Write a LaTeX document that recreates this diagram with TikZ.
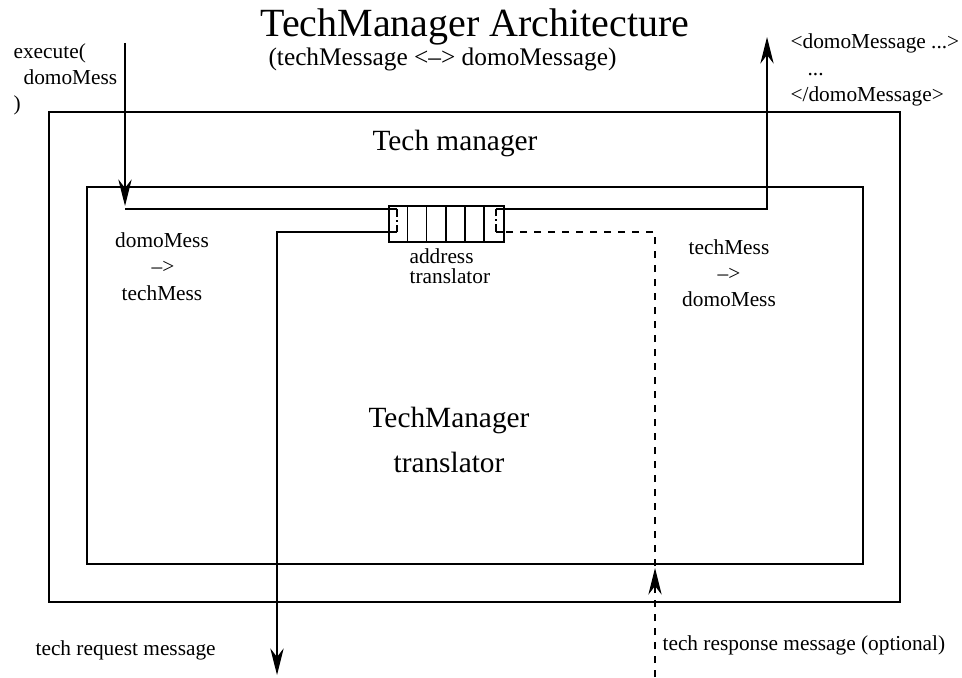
\documentclass[tikz,border=0pt]{standalone}
\usepackage{fontspec}
\setmainfont{Liberation Serif}
\usetikzlibrary{arrows.meta}
\begin{document}
\begin{tikzpicture}[x=0.75pt,y=-0.75pt, line width=0.9pt,
  box/.style={draw, rectangle, inner sep=0pt},
  txt/.style={inner sep=0pt, font=\fontsize{16}{19}\selectfont},
  medtxt/.style={inner sep=0pt, font=\fontsize{22}{26}\selectfont},
  arr/.style={-{Stealth[length=20pt,width=10pt,inset=6.5pt]}},
  dsh/.style={dash pattern=on 5.5pt off 5pt},
  celldash/.style={dash pattern=on 6pt off 2.5pt on 1pt off 2.5pt on 6pt}
]
\useasboundingbox (0,0) rectangle (962,677);

% boxes
\node[box, minimum width=638.25pt, minimum height=367.5pt] (outer) at (474.5,357) {};
\node[box, minimum width=582pt, minimum height=282.75pt] (inner) at (475,375.5) {};
\node[box, minimum width=86.25pt, minimum height=27pt] (addr) at (446.5,224) {};
\foreach \k in {1,...,4}
  \draw ([xshift=\k*14.375pt]addr.north west) -- ([xshift=\k*14.375pt]addr.south west);
\draw[line width=1.6pt] ([xshift=5*14.375pt]addr.north west) -- ([xshift=5*14.375pt]addr.south west);

% titles
\node[anchor=base, inner sep=0pt, font=\fontsize{30}{36}\selectfont] (title) at (475,37) {TechManager Architecture};
\node[anchor=base, inner sep=0pt, font=\fontsize{19}{23}\selectfont] (subtitle) at (442.5,66) {(techMessage <–> domoMessage)};

\node[anchor=base, medtxt] (tmlabel) at (455,151) {Tech manager};
\node[anchor=base, medtxt] (tr1) at (449,427) {TechManager};
\node[anchor=base, medtxt] (tr2) at (449,472) {translator};

% execute text
\node[anchor=base west, txt] (ex1) at (13,59) {execute(};
\node[anchor=base west, txt] (ex2) at (23,85) {domoMess};
\node[anchor=base west, txt] (ex3) at (13,111) {)};

% output text
\node[anchor=base west, txt] (o1) at (790,49) {<domoMessage ...>};
\node[anchor=base west, txt] (o2) at (807,76) {...};
\node[anchor=base west, txt] (o3) at (790,102) {</domoMessage>};

% left conversion
\node[anchor=base, txt] (l1) at (162,247) {domoMess};
\node[anchor=base, txt] (l2) at (163,273) {–>};
\node[anchor=base, txt] (l3) at (162,300) {techMess};

% right conversion
\node[anchor=base, txt] (r1) at (729,254) {techMess};
\node[anchor=base, txt] (r2) at (729,280) {–>};
\node[anchor=base, txt] (r3) at (729,306) {domoMess};

% address translator label
\node[anchor=base west, txt] (ad1) at (409,263) {address};
\node[anchor=base west, txt] (ad2) at (409,283) {translator};

% bottom labels
\node[anchor=base west, txt] (req) at (35,655) {tech request message};
\node[anchor=base west, txt] (resp) at (662,650) {tech response message (optional)};

% coordinates
\coordinate (inTop) at (125,43);
\coordinate (inEnd) at (125,206);
\coordinate (c1) at (125,209);
\coordinate (aLu) at (397,209);
\coordinate (aLd) at (397,232);
\coordinate (reqC) at (277,232);
\coordinate (reqEnd) at (277,675);
\coordinate (aRd) at (496,232);
\coordinate (aRu) at (496,209);
\coordinate (outC) at (767,209);
\coordinate (outEnd) at (767,37);
\coordinate (respC) at (655,232);
\coordinate (respIn) at (655,566);
\coordinate (respTip) at (655,568);
\coordinate (respStart) at (655,677);

% connectors
\draw[arr] (inTop) -- (inEnd);
\draw (c1) -- (aLu);
\draw[celldash] (aLu) -- (aLd);
\draw[arr] (aLd) -- (reqC) -- (reqEnd);
\draw[dsh] (respIn) -- (respC) -- (addr.east |- respC);
\draw (addr.east |- respC) -- (aRd);
\draw[celldash] (aRd) -- (aRu);
\draw[arr] (aRu) -- (outC) -- (outEnd);
\draw[dsh, arr] (respStart) -- (respTip);
\end{tikzpicture}
\end{document}
